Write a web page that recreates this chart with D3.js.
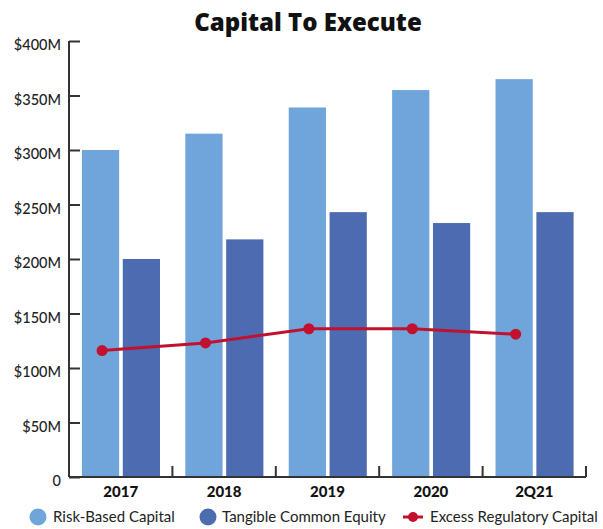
<!DOCTYPE html>
<html>
<head>
<meta charset="utf-8">
<script src="https://cdn.jsdelivr.net/npm/d3@7"></script>
<style>
  html, body { margin: 0; padding: 0; background: #fff; }
  svg { display: block; font-family: Lato, "Open Sans", sans-serif; }
</style>
</head>
<body>
<svg id="chart" width="603" height="529"></svg>
<script>
// Periods and series values ($M)
const categories = ["2017", "2018", "2019", "2020", "2Q21"];
const riskBasedCapital = [300, 315, 339, 355, 365];
const tangibleCommonEquity = [200, 218, 243, 233, 243];
const excessRegulatoryCapital = [116, 123, 136, 136, 131];
const yTicks = [0, 50, 100, 150, 200, 250, 300, 350, 400];
const legendLabels = ["Risk-Based Capital", "Tangible Common Equity", "Excess Regulatory Capital"];

const colors = { light: "#6fa5da", dark: "#4d6bb0", line: "#c2102f", axis: "#333" };

const svg = d3.select("#chart");
const margin = { left: 69 };
const plotBottom = 477, plotTop = 41;

const x = d3.scaleBand().domain(categories).range([margin.left, 586]).paddingInner(0).paddingOuter(0);
const y = d3.scaleLinear().domain([0, 400]).range([plotBottom, plotTop]);

// Title
svg.append("text")
  .attr("x", 308).attr("y", 31)
  .attr("text-anchor", "middle")
  .attr("font-family", "'Open Sans', Lato, sans-serif")
  .attr("font-size", 24).attr("font-weight", 800)
  .attr("fill", "#111")
  .text("Capital To Execute");

// Bars
const bw = x.bandwidth();
const barW = bw * 0.36;
const innerGap = bw * 0.035;
const padL = bw * 0.125;

const g = svg.append("g");
g.selectAll("rect.rbc").data(categories).join("rect")
  .attr("class", "rbc")
  .attr("x", d => x(d) + padL)
  .attr("y", (d, i) => y(riskBasedCapital[i]))
  .attr("width", barW)
  .attr("height", (d, i) => y(0) - y(riskBasedCapital[i]))
  .attr("fill", colors.light);

g.selectAll("rect.tce").data(categories).join("rect")
  .attr("class", "tce")
  .attr("x", d => x(d) + padL + barW + innerGap)
  .attr("y", (d, i) => y(tangibleCommonEquity[i]))
  .attr("width", barW)
  .attr("height", (d, i) => y(0) - y(tangibleCommonEquity[i]))
  .attr("fill", colors.dark);

// Y axis: ticks point into the plot
const yAxis = d3.axisRight(y)
  .tickValues(yTicks)
  .tickSize(11)
  .tickFormat(() => "");
const yg = svg.append("g").attr("transform", `translate(${margin.left},0)`).call(yAxis);
yg.select(".domain").attr("stroke", colors.axis).attr("stroke-width", 2).attr("d", `M0,${plotTop}V${plotBottom}`);
yg.selectAll(".tick line").attr("stroke", colors.axis).attr("stroke-width", 2);

// Tick labels sit slightly below their tick marks
svg.append("g").selectAll("text").data(yTicks).join("text")
  .attr("x", 61)
  .attr("y", d => y(d) + 9)
  .attr("text-anchor", "end")
  .attr("font-size", 14.5)
  .attr("font-weight", 500)
  .attr("fill", "#222")
  .text(d => d === 0 ? "0" : `$${d}M`);

// X axis: baseline with separators between periods pointing up
const xg = svg.append("g");
xg.append("line")
  .attr("x1", margin.left).attr("x2", x.range()[1])
  .attr("y1", plotBottom).attr("y2", plotBottom)
  .attr("stroke", colors.axis).attr("stroke-width", 2);
xg.selectAll("line.sep").data(categories).join("line")
  .attr("class", "sep")
  .attr("x1", d => x(d) + bw).attr("x2", d => x(d) + bw)
  .attr("y1", plotBottom).attr("y2", plotBottom - 11)
  .attr("stroke", colors.axis).attr("stroke-width", 2);
xg.selectAll("text").data(categories).join("text")
  .attr("x", d => x(d) + bw / 2)
  .attr("y", 497)
  .attr("text-anchor", "middle")
  .attr("font-size", 15)
  .attr("font-weight", 900)
  .attr("fill", "#111")
  .text(d => d);

// Excess regulatory capital line
const lx = (d) => x(d) + bw * 0.32;
const line = d3.line()
  .x((v, i) => lx(categories[i]))
  .y(v => y(v));
svg.append("path")
  .datum(excessRegulatoryCapital)
  .attr("d", line)
  .attr("fill", "none")
  .attr("stroke", colors.line)
  .attr("stroke-width", 3);
svg.append("g").selectAll("circle").data(excessRegulatoryCapital).join("circle")
  .attr("cx", (v, i) => lx(categories[i]))
  .attr("cy", v => y(v))
  .attr("r", 5.5)
  .attr("fill", colors.line);

// Legend
const lgY = 517;
const legend = svg.append("g").attr("font-size", 15).attr("fill", "#222");
const items = [
  { label: legendLabels[0], cx: 38, tx: 53, type: "dot", color: colors.light },
  { label: legendLabels[1], cx: 208, tx: 222, type: "dot", color: colors.dark },
  { label: legendLabels[2], cx: 413, tx: 430, type: "line", color: colors.line }
];
items.forEach(it => {
  if (it.type === "dot") {
    legend.append("circle").attr("cx", it.cx).attr("cy", lgY).attr("r", 8.5).attr("fill", it.color);
  } else {
    legend.append("line").attr("x1", it.cx - 10).attr("x2", it.cx + 10)
      .attr("y1", lgY).attr("y2", lgY).attr("stroke", it.color).attr("stroke-width", 3);
    legend.append("circle").attr("cx", it.cx).attr("cy", lgY).attr("r", 5).attr("fill", it.color);
  }
  legend.append("text").attr("x", it.tx).attr("y", lgY + 5).text(it.label);
});
</script>
</body>
</html>
